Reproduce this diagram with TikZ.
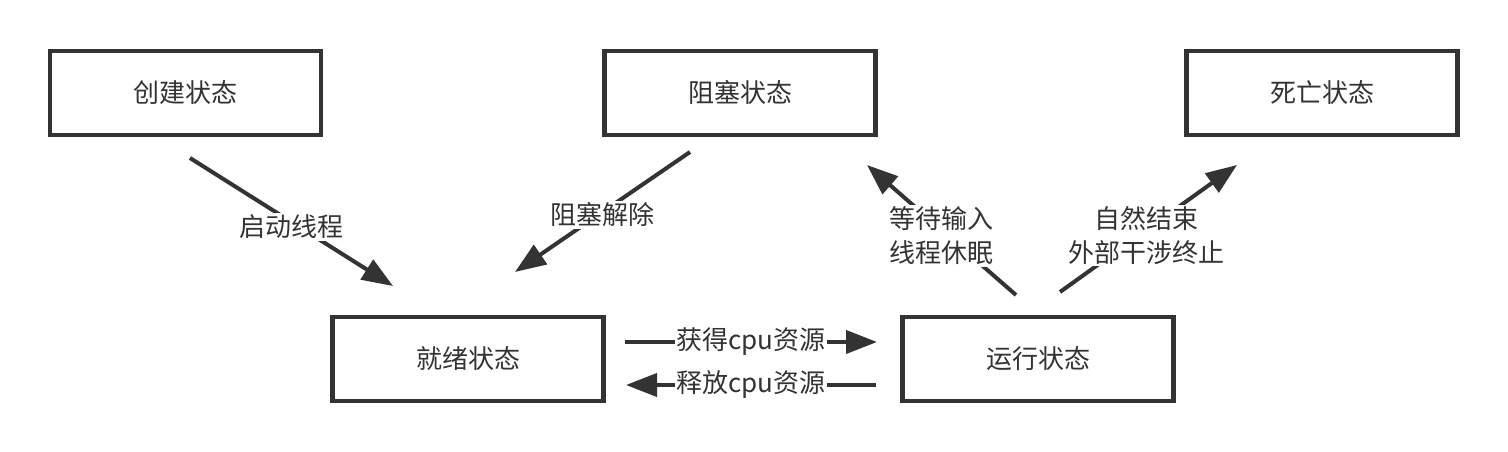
\documentclass[tikz,border=0pt]{standalone}
\usepackage{fontspec}
\setmainfont{Noto Sans CJK SC}
\usetikzlibrary{arrows.meta}
\definecolor{ink}{HTML}{333333}
\tikzset{
  statebox/.style={draw=ink, line width=4.5pt, minimum width=271pt, minimum height=84pt, text=ink, font=\fontsize{26}{30}\selectfont, inner sep=0pt},
  flow/.style={draw=ink, line width=4pt, -{Triangle[length=31pt,width=23pt]}},
  lbl/.style={fill=white, text=ink, font=\fontsize{26}{34}\selectfont, inner sep=1.5pt, align=center}
}
\begin{document}
\begin{tikzpicture}[x=1pt,y=-1pt]
\useasboundingbox (0,0) rectangle (1508,452);
\node[statebox] (create) at (185.5,93) {创建状态};
\node[statebox] (block) at (740,93) {阻塞状态};
\node[statebox] (dead) at (1322,93) {死亡状态};
\node[statebox] (ready) at (468,359) {就绪状态};
\node[statebox] (run) at (1038,359) {运行状态};

\coordinate (a1) at (190,158); \coordinate (a2) at (393,286);
\coordinate (b1) at (690,152); \coordinate (b2) at (515,272);
\coordinate (c1) at (625,342); \coordinate (c2) at (877,342);
\coordinate (d1) at (876,385); \coordinate (d2) at (626,385);
\coordinate (e1) at (1016,295); \coordinate (e2) at (867,165);
\coordinate (f1) at (1060,292); \coordinate (f2) at (1237,165);

\draw[flow] (a1) -- node[lbl, yshift=-5pt] (la) {启动线程} (a2);
\draw[flow] (b1) -- node[lbl, yshift=-3pt] (lb) {阻塞解除} (b2);
\draw[flow] (c1) -- node[lbl] (lc) {获得cpu资源} (c2);
\draw[flow] (d1) -- node[lbl] (ld) {释放cpu资源} (d2);
\draw[flow] (e1) -- node[lbl, yshift=-6pt] (le) {等待输入\\线程休眠} (e2);
\draw[flow] (f1) -- node[lbl, xshift=-2pt, yshift=-7pt] (lf) {自然结束\\外部干涉终止} (f2);
\end{tikzpicture}
\end{document}
